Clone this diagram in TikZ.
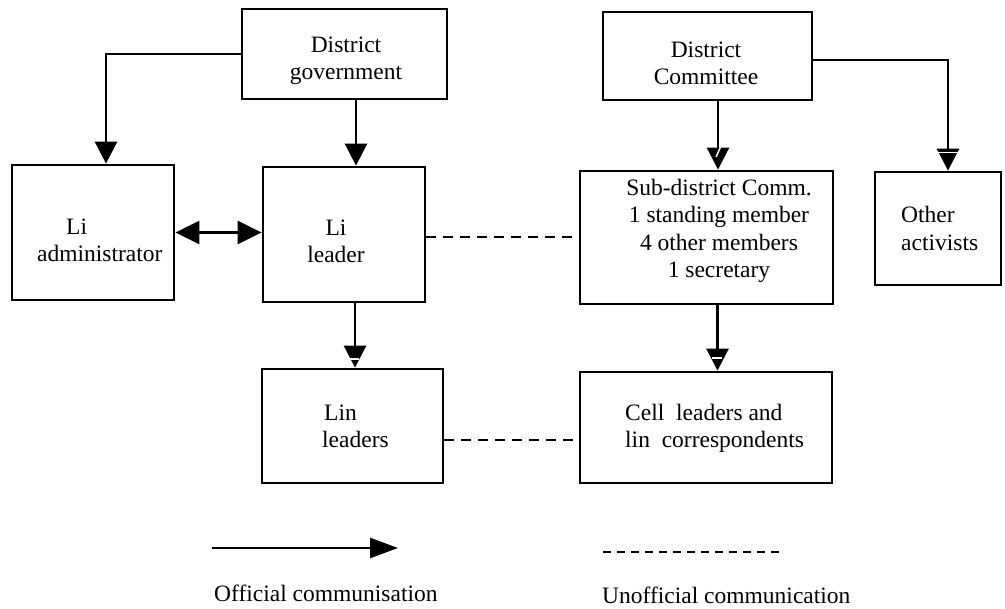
\documentclass[tikz,border=0pt]{standalone}
\usepackage{fontspec}
\setmainfont{Liberation Serif}
\usetikzlibrary{arrows.meta}
\begin{document}
\begin{tikzpicture}[x=1pt,y=-1pt,
  box/.style={draw, line width=2.8pt, inner sep=0pt},
  txt/.style={font=\fontsize{23.5}{27.5}\selectfont, inner sep=0pt},
  official/.style={line width=2.8pt, -{Triangle[length=22pt,width=22pt]}},
  twoway/.style={line width=2.8pt, {Triangle[length=24pt,width=23pt]}-{Triangle[length=24pt,width=23pt]}},
  unofficial/.style={line width=2.6pt, dash pattern=on 10pt off 7pt},
  notch/.style={white, line width=1.4pt}
]
\useasboundingbox (0,0) rectangle (1005,609);

% boxes
\node[box, minimum width=205pt, minimum height=90pt]  (dg)   at (344.5,54)   {};
\node[box, minimum width=209pt, minimum height=88pt]  (dc)   at (707.5,56)   {};
\node[box, minimum width=162pt, minimum height=135pt] (adm)  at (93,232.5)   {};
\node[box, minimum width=162pt, minimum height=135pt] (lil)  at (344,234.5)  {};
\node[box, minimum width=253pt, minimum height=133pt] (sub)  at (706.5,237.5){};
\node[box, minimum width=126pt, minimum height=113pt] (oth)  at (938,228.5)  {};
\node[box, minimum width=181pt, minimum height=114pt] (lin)  at (352.5,426)  {};
\node[box, minimum width=252pt, minimum height=111pt] (cell) at (706,427.5)  {};

% box texts
\node[txt, align=center] (t-dg) at (346,61) {District\\government};
\node[txt, align=center] (t-dc) at (706,63.5) {District\\Committee};
\node[txt, align=left, anchor=west] (t-adm) at (37,240.5) {\hspace*{29pt}Li\\administrator};
\node[txt, align=center] (t-lil) at (336,241.5) {Li\\leader};
\node[txt, align=center] (t-sub) at (719,231) {Sub-district Comm.\\1 standing member\\4 other members\\1 secretary};
\node[txt, align=left, anchor=west] (t-oth) at (901,228.5) {Other\\activists};
\node[txt, align=left, anchor=west] (t-lin) at (322,426.5) {\hspace*{2pt}Lin\\leaders};
\node[txt, align=left, anchor=west] (t-cell) at (625,428.5) {Cell\ \ leaders and\\lin\ \ correspondents};

% official lines of communication
\draw[official] (dg.west) -| ([xshift=13pt]adm.north);
\draw[official] ([xshift=11.5pt]dg.south) -- ([xshift=11.5pt]dg.south |- lil.north);
\draw[twoway] (adm.east) -- (adm.east -| lil.west);
\draw[official] ([xshift=10.5pt]dc.south) -- ([xshift=10.5pt]dc.south |- sub.north);
\draw[official] ([yshift=-4pt]dc.east) -| ([xshift=10pt]oth.north);
\draw[official] ([xshift=11pt]lil.south) -- ([xshift=11pt]lil.south |- lin.north);
\draw[official] ([xshift=11pt]sub.south) -- ([xshift=11pt]sub.south |- cell.north);

% unofficial lines of communication
\draw[unofficial] ([yshift=-2.5pt]lil.east) -- ([yshift=-2.5pt]lil.east -| sub.west);
\draw[unofficial] ([yshift=-14pt]lin.east) -- ([yshift=-14pt]lin.east -| cell.west);

% light notches across some arrow heads
\draw[notch] (716,157) -- (721,146);
\draw[notch] (937,152.5) -- (959,152.5);
\draw[notch] (350,359) -- (359,359);
\draw[notch] (712,358) -- (722,358);

% legend
\coordinate (la) at (212,548);
\coordinate (lb) at (398,548);
\draw[line width=2.8pt, -{Triangle[length=28pt,width=20pt]}] (la) -- (lb);
\coordinate (ua) at (603,552);
\coordinate (ub) at (782,552);
\draw[line width=2.4pt, dash pattern=on 8pt off 6pt] (ua) -- (ub);
\node[txt, anchor=west] (t-off) at (214,593) {Official communisation};
\node[txt, anchor=west] (t-unoff) at (602,595) {Unofficial communication};
\end{tikzpicture}
\end{document}
